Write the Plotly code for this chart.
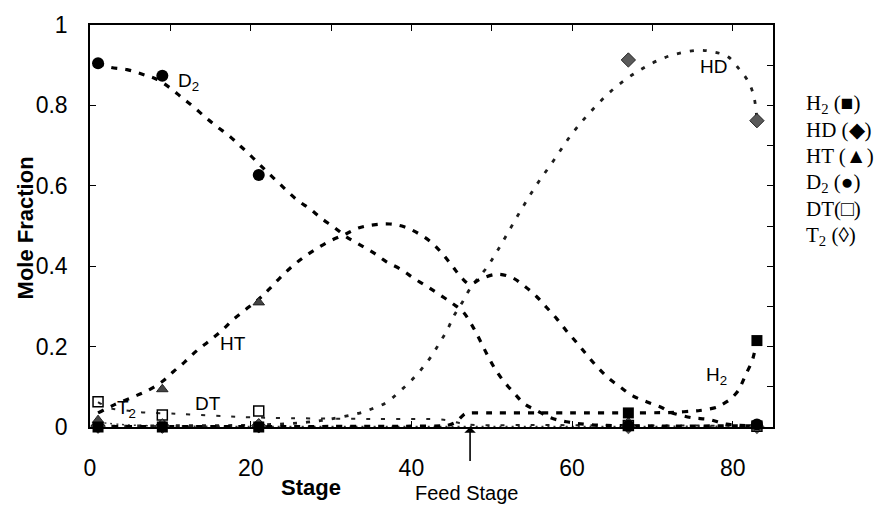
import plotly.graph_objects as go

# ---------------- data ----------------
stages = [1, 9, 21, 67, 83]
h2_pts = [0.0, 0.0, 0.0, 0.035, 0.215]
hd_pts = [0.002, 0.002, 0.003, 0.913, 0.762]
ht_pts = [0.017, 0.094, 0.310, 0.012, 0.003]
d2_pts = [0.905, 0.874, 0.627, 0.003, 0.006]
dt_pts = [0.063, 0.030, 0.040, 0.004, 0.002]
t2_pts = [0.004, 0.003, 0.003, 0.001, 0.001]

d2_x = [1, 2.5, 4.6, 6.6, 8.3, 10, 11.4, 12.9, 14.5, 15.8, 17.4, 18.7, 19.8, 21.5, 23.6, 25.7, 27.4, 28.8,
        30.5, 31.9, 33.6, 35.3, 36.9, 38.7, 40.3, 42, 43.6, 45.2, 46.4, 47.6, 48.5, 49.4, 50.3, 51.4, 52.8,
        54.1, 55.6, 57.3, 59.3, 62, 67, 83]
d2_y = [0.905, 0.895, 0.889, 0.877, 0.865, 0.843, 0.82, 0.796, 0.768, 0.747, 0.723, 0.699, 0.679, 0.645, 0.605,
        0.566, 0.542, 0.519, 0.495, 0.473, 0.453, 0.433, 0.411, 0.392, 0.37, 0.349, 0.328, 0.306, 0.287, 0.251,
        0.217, 0.181, 0.148, 0.116, 0.084, 0.057, 0.041, 0.023, 0.013, 0.006, 0.003, 0.003]

ht_x = [1, 3, 5.4, 7.3, 9, 10.4, 11.8, 13.3, 14.9, 16.4, 17.8, 19.3, 21, 22.2, 23.5, 24.9, 26.5, 28, 29.8,
        31.7, 33.4, 35.3, 37.3, 39.1, 40.9, 42.5, 43.9, 45.1, 46.3, 47.3, 48.6, 50.6, 52.5, 54.1, 55.6, 56.8,
        58.1, 59.3, 60.6, 61.8, 63.1, 64.5, 66, 67.6, 69.5, 71.2, 72.2, 74.9, 77, 79.2, 83]
ht_y = [0.035, 0.055, 0.075, 0.092, 0.113, 0.138, 0.162, 0.19, 0.215, 0.24, 0.267, 0.291, 0.318, 0.341, 0.368,
        0.395, 0.421, 0.441, 0.462, 0.479, 0.495, 0.503, 0.505, 0.498, 0.481, 0.459, 0.43, 0.40, 0.37, 0.355,
        0.368, 0.38, 0.372, 0.35, 0.324, 0.298, 0.269, 0.239, 0.209, 0.18, 0.15, 0.122, 0.099, 0.077, 0.061,
        0.048, 0.037, 0.023, 0.019, 0.007, 0.003]

hd_x = [1, 10, 21, 27, 30, 33.4, 35.2, 36.9, 38.5, 39.9, 41.3, 42.4, 43.5, 44.5, 45.3, 46.3, 47.3, 49.5, 50.6,
        51.6, 53.5, 55.5, 57.7, 59.9, 62.2, 65.1, 68.2, 71.8, 75.7, 77.6, 79.4, 80.8, 81.9, 82.6, 83]
hd_y = [0.002, 0.003, 0.005, 0.012, 0.02, 0.034, 0.046, 0.061, 0.088, 0.114, 0.145, 0.174, 0.209, 0.243, 0.277,
        0.309, 0.344, 0.40, 0.435, 0.469, 0.535, 0.600, 0.663, 0.727, 0.782, 0.84, 0.885, 0.921, 0.937, 0.933,
        0.921, 0.89, 0.86, 0.824, 0.765]

h2_x = [1, 40, 44.5, 45.6, 46.7, 50, 60, 67, 72, 75.9, 78.0, 79.7, 80.7, 81.6, 82.4, 83]
h2_y = [0.001, 0.002, 0.004, 0.013, 0.033, 0.035, 0.035, 0.035, 0.036, 0.041, 0.049, 0.069, 0.091, 0.13, 0.164, 0.212]

dt_x = [1, 2.5, 5, 6.8, 10.6, 12.4, 16.6, 18.7, 25, 35, 44, 45.5, 47, 55, 67, 83]
dt_y = [0.062, 0.047, 0.040, 0.036, 0.033, 0.031, 0.027, 0.025, 0.022, 0.020, 0.018, 0.012, 0.006, 0.005, 0.004, 0.003]

t2_x = [1, 4, 8, 83]
t2_y = [0.012, 0.006, 0.003, 0.002]

x_ticks = [0, 20, 40, 60, 80]
y_ticks = [0, 0.2, 0.4, 0.6, 0.8, 1.0]
y_ticktext = ["0", "0.2", "0.4", "0.6", "0.8", "1"]

legend_lines = ["H<sub>2</sub> (\u25a0)", "HD (\u25c6)", "HT (\u25b2)", "D<sub>2</sub> (\u25cf)",
                "DT(\u25a1)", "T<sub>2</sub> (\u25ca)"]

# ---------------- figure ----------------
W, H = 895, 509
ML, MR, MT, MB = 90, 122, 14, 82
PH = H - MT - MB

fig = go.Figure()

bold = dict(color="black", width=3.2, dash="6px,8px")
fig.add_trace(go.Scatter(x=t2_x, y=t2_y, mode="lines", line=dict(color="#333", width=1.5, dash="2px,4px"),
                         line_shape="spline", cliponaxis=False, showlegend=False))
fig.add_trace(go.Scatter(x=dt_x, y=dt_y, mode="lines", line=dict(color="#222", width=2, dash="4px,11px"),
                         line_shape="spline", cliponaxis=False, showlegend=False))
fig.add_trace(go.Scatter(x=hd_x, y=hd_y, mode="lines", line=dict(color="#1e1e1e", width=2.8, dash="4px,9px"),
                         line_shape="spline", cliponaxis=False, showlegend=False))
fig.add_trace(go.Scatter(x=d2_x, y=d2_y, mode="lines", line=bold, line_shape="spline", cliponaxis=False,
                         showlegend=False))
fig.add_trace(go.Scatter(x=ht_x, y=ht_y, mode="lines", line=bold, line_shape="spline", cliponaxis=False,
                         showlegend=False))
fig.add_trace(go.Scatter(x=h2_x, y=h2_y, mode="lines", line=bold, line_shape="spline",
                         line_smoothing=0.6, cliponaxis=False, showlegend=False))

# markers
fig.add_trace(go.Scatter(x=stages, y=t2_pts, mode="markers", cliponaxis=False, showlegend=False,
                         marker=dict(symbol="diamond-open", size=10, color="#555", line=dict(width=1.5))))
fig.add_trace(go.Scatter(x=stages, y=dt_pts, mode="markers", cliponaxis=False, showlegend=False,
                         marker=dict(symbol="square-open", size=10, color="black", line=dict(width=1.5))))
fig.add_trace(go.Scatter(x=stages, y=hd_pts, mode="markers", cliponaxis=False, showlegend=False,
                         marker=dict(symbol="diamond", size=11, color="#5a5a5a",
                                     line=dict(width=1, color="#222"))))
fig.add_trace(go.Scatter(x=stages, y=ht_pts, mode="markers", cliponaxis=False, showlegend=False,
                         marker=dict(symbol="triangle-up", size=10, color="#444",
                                     line=dict(width=1, color="#222"))))
fig.add_trace(go.Scatter(x=stages, y=h2_pts, mode="markers", cliponaxis=False, showlegend=False,
                         marker=dict(symbol="square", size=11, color="black")))
fig.add_trace(go.Scatter(x=stages, y=d2_pts, mode="markers", cliponaxis=False, showlegend=False,
                         marker=dict(symbol="circle", size=12, color="black")))
# invisible trace to realise the mirrored tick axes
fig.add_trace(go.Scatter(x=[None], y=[None], xaxis="x2", yaxis="y2", showlegend=False, hoverinfo="skip"))

tickfont = dict(family="Liberation Sans, Arial, sans-serif", size=23, color="black")
fig.update_layout(
    width=W, height=H, margin=dict(l=ML, r=MR, t=MT, b=MB),
    paper_bgcolor="white", plot_bgcolor="white", showlegend=False,
    xaxis=dict(range=[0, 85], tickvals=x_ticks, ticks="inside", ticklen=6, tickcolor="black",
               showline=True, linecolor="black", linewidth=1.5, showgrid=False, zeroline=False,
               tickfont=tickfont, ticklabelstandoff=20),
    yaxis=dict(range=[0, 1.0], tickvals=y_ticks, ticktext=y_ticktext, ticks="inside", ticklen=6,
               tickcolor="black", showline=True, linecolor="black", linewidth=1.5, showgrid=False,
               zeroline=False, tickfont=tickfont, ticklabelstandoff=16),
    xaxis2=dict(range=[0, 85], overlaying="x", side="top", anchor="y", dtick=10, tick0=0, ticks="inside",
                ticklen=6, tickcolor="black", showline=True, linecolor="black", linewidth=1.5,
                showticklabels=False, showgrid=False, zeroline=False),
    yaxis2=dict(range=[0, 1.0], overlaying="y", side="right", anchor="x", dtick=0.1, tick0=0, ticks="inside",
                ticklen=6, tickcolor="black", showline=True, linecolor="black", linewidth=1.5,
                showticklabels=False, showgrid=False, zeroline=False),
)

lab = dict(family="Liberation Sans, Arial, sans-serif", size=19, color="black")
curve_labels = [("D<sub>2</sub>", 12.3, 0.857), ("HT", 17.8, 0.208), ("HD", 77.6, 0.896),
                ("H<sub>2</sub>", 78.0, 0.126), ("DT", 14.7, 0.059), ("T<sub>2</sub>", 4.6, 0.044)]
for t, x, y in curve_labels:
    fig.add_annotation(text=t, x=x, y=y, xref="x", yref="y", showarrow=False, font=lab)

# legend text block
leg_y = [95, 122, 149, 176, 203, 231]
for t, yp in zip(legend_lines, leg_y):
    fig.add_annotation(text=t, xref="paper", yref="paper", x=(804 - ML) / (W - ML - MR),
                       y=(H - MB - yp) / PH, xanchor="left", yanchor="middle", showarrow=False,
                       font=dict(family="Liberation Serif, Times New Roman, serif", size=21, color="black"))

# axis titles
bfont = dict(family="Liberation Sans, Arial, sans-serif", size=22, color="black")
fig.add_annotation(text="<b>Mole Fraction</b>", xref="paper", yref="paper", x=(25 - ML) / (W - ML - MR),
                   y=(H - MB - 223) / PH, textangle=-90, showarrow=False, font=bfont,
                   xanchor="center", yanchor="middle")
fig.add_annotation(text="<b>Stage</b>", xref="paper", yref="paper", x=(311 - ML) / (W - ML - MR),
                   y=(H - MB - 489) / PH, showarrow=False, font=bfont, xanchor="center", yanchor="middle")

# feed stage arrow + label
fig.add_annotation(text=" ", x=47.3, y=0, xref="x", yref="y", showarrow=True, ax=0, ay=44,
                   arrowhead=1, arrowsize=1.2, arrowwidth=1.6, arrowcolor="black")
fig.add_annotation(text="Feed Stage", xref="x", yref="paper", x=46.9, y=(H - MB - 495) / PH,
                   showarrow=False, font=dict(family="Liberation Sans, Arial, sans-serif", size=20,
                                              color="black"), xanchor="center", yanchor="middle")

fig.write_html("out.html")
